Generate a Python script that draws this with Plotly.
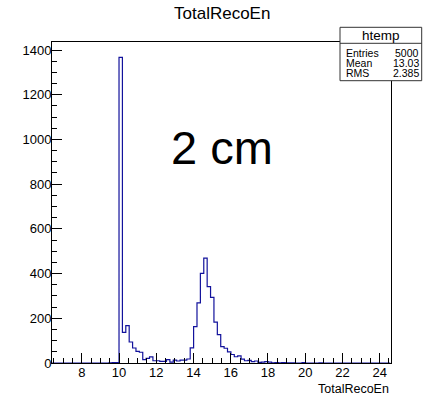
import numpy as np
import plotly.graph_objects as go

# ---- data ----
bin_low = 6.358
bin_width = 0.1821
nonzero_bins = {
    17: 1, 18: 2, 19: 2, 20: 1367, 21: 137, 22: 167, 23: 94, 24: 67, 25: 52,
    26: 48, 27: 15, 28: 21, 29: 27, 30: 10, 31: 10, 32: 7, 33: 7, 34: 15,
    35: 4, 36: 13, 37: 9, 38: 13, 39: 13, 40: 18, 41: 68, 42: 163, 43: 269,
    44: 401, 45: 469, 46: 342, 47: 294, 48: 183, 49: 127, 50: 73, 51: 66,
    52: 50, 53: 38, 54: 28, 55: 32, 56: 17, 57: 10, 58: 12, 59: 6, 60: 9,
    61: 3, 62: 4, 63: 6, 64: 4, 65: 1, 66: 2, 67: 1, 68: 2, 69: 1, 70: 1,
    71: 1, 74: 2, 79: 1,
}
n_bins = 100
counts = [nonzero_bins.get(i, 0) for i in range(n_bins)]

stat_labels = ["Entries", "Mean", "RMS"]
stat_values = ["5000", "13.03", "2.385"]
hist_name = "htemp"
title_text = "TotalRecoEn"
xaxis_label = "TotalRecoEn"
overlay_text = "2 cm"

# ---- figure ----
W, H = 435, 397
FL, FR, FT, FB = 52, 391, 42, 363  # frame in pixels

def px(x):
    return x / W

def py(y):
    return 1 - y / H

edges = bin_low + bin_width * np.arange(n_bins + 1)
ys = counts + [0]

font_fam = "Liberation Sans, Arial, Helvetica, sans-serif"
line_col = "#12129c"

fig = go.Figure()
fig.add_trace(go.Scatter(
    x=edges, y=ys, mode="lines", line=dict(shape="hv", color=line_col, width=1.2),
    hoverinfo="skip", showlegend=False,
))

fig.update_layout(
    width=W, height=H, margin=dict(l=0, r=0, t=0, b=0, pad=0, autoexpand=False),
    paper_bgcolor="white", plot_bgcolor="white",
    font=dict(family=font_fam, color="black", size=13),
    xaxis=dict(
        domain=[px(FL), px(FR)], range=[6.40, 24.61], automargin=False,
        showgrid=False, zeroline=False, showline=True, linecolor="black", linewidth=1,
        mirror=True, ticks="inside", ticklen=10, tickcolor="black", tickwidth=1,
        tick0=0, dtick=2, tickfont=dict(size=13, family=font_fam),
        ticklabelstandoff=-3,
        minor=dict(ticks="inside", ticklen=5, dtick=0.5, tickcolor="black", showgrid=False),
    ),
    yaxis=dict(
        domain=[py(FB), py(FT)], range=[0, 1436], automargin=False,
        showgrid=False, zeroline=False, showline=True, linecolor="black", linewidth=1,
        mirror=True, ticks="inside", ticklen=10, tickcolor="black", tickwidth=1,
        tick0=0, dtick=200, tickfont=dict(size=13, family=font_fam),
        ticklabelstandoff=-3,
        minor=dict(ticks="inside", ticklen=5, dtick=50, tickcolor="black", showgrid=False),
    ),
)

shapes = []
annos = []
# stats box
bx0, bx1, by0, by1, bsep = 340, 421.7, 27.3, 80.7, 43.3
shapes.append(dict(type="rect", xref="paper", yref="paper",
                   x0=px(bx0), x1=px(bx1), y0=py(by1), y1=py(by0),
                   fillcolor="white", line=dict(color="#333333", width=1), layer="above"))
shapes.append(dict(type="line", xref="paper", yref="paper",
                   x0=px(bx0), x1=px(bx1), y0=py(bsep), y1=py(bsep),
                   line=dict(color="#333333", width=1), layer="above"))
annos.append(dict(text=hist_name, xref="paper", yref="paper", x=px((bx0 + bx1) / 2), y=py(35.5),
                  xanchor="center", yanchor="middle", showarrow=False,
                  font=dict(size=13.5, family=font_fam, color="black")))
row_y = [52.6, 62.8, 72.8]
for lab, val, yy in zip(stat_labels, stat_values, row_y):
    annos.append(dict(text=lab, xref="paper", yref="paper", x=px(343.5), y=py(yy),
                      xanchor="left", yanchor="middle", showarrow=False,
                      font=dict(size=10.5, family=font_fam, color="black")))
    annos.append(dict(text=val, xref="paper", yref="paper", x=px(421), y=py(yy),
                      xanchor="right", yanchor="middle", showarrow=False,
                      font=dict(size=10.5, family=font_fam, color="black")))

annos.append(dict(text=title_text, xref="paper", yref="paper", x=px(222), y=py(13.7),
                  xanchor="center", yanchor="middle", showarrow=False,
                  font=dict(size=17, family=font_fam, color="black")))
annos.append(dict(text=xaxis_label, xref="paper", yref="paper", x=px(390.5), y=py(388.5),
                  xanchor="right", yanchor="middle", showarrow=False,
                  font=dict(size=12.5, family=font_fam, color="black")))
annos.append(dict(text=overlay_text, xref="paper", yref="paper", x=px(221.7), y=py(147),
                  xanchor="center", yanchor="middle", showarrow=False,
                  font=dict(size=47, family=font_fam, color="black")))

fig.update_layout(shapes=shapes, annotations=annos)
fig.write_html("out.html")
